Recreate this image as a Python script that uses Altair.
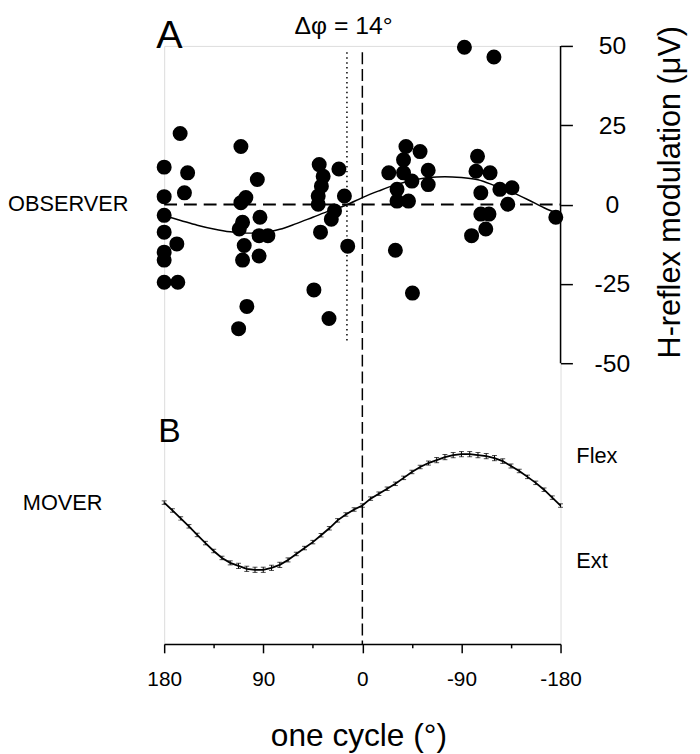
import altair as alt
import pandas as pd

# ---------------- Panel A: observer H-reflex modulation ----------------
obs_phase = [165.5, 180, 158.7, 161.6, 180, 180, 180, 168.5, 180, 180, 180, 167.6,
             110.3, 95.4, 105.8, 110.3, 93, 108.8, 111.8, 93.8, 85.8, 107.3, 93.8, 108.8, 104.9, 112.4,
             39.2, 21.3, 35.6, 37.2, 40.1, 40.1, 16.3, 25.3, 28.2, 38, 13.3, 44, 30.3,
             -92.7, -119.5, -39.6, -52.4, -37.4, -24, -37.4, -59.8, -45, -59.8, -31.5, -31.5, -41.9,
             -30, -45.5, -104.6, -103.2, -116, -107.6, -124.9, -135.9, -132.1, -107.6, -115, -112.1,
             -99.2, -175.7]
obs_value = [22.4, 11.8, 10, 3.7, 2.5, -3.4, -8.7, -12.4, -15, -17.5, -24.5, -24.5,
             18.3, 7.9, 2.2, 0.6, -4, -5.6, -7.7, -9.8, -9.8, -12.9, -16.2, -17.5, -32.1, -39.1,
             12.6, 11.2, 8.9, 5.8, 2.7, 0.1, 2.7, -2, -4.6, -8.7, -13.1, -26.9, -35.9,
             49.6, 46.5, 18.3, 16.7, 14.1, 10, 10, 10.8, 7.4, 6.3, 4.8, 1.1, 1.1,
             -14.4, -27.9, 15.2, 10.5, 10, 3.7, 4.8, 5.3, 0.1, -3, -3, -7.7,
             -9.8, -4]

# fitted sinusoid, read at 15 deg steps
fit_phase = [180, 165, 150, 135, 120, 105, 90, 75, 60, 45, 30, 15, 0,
             -15, -30, -45, -60, -75, -90, -105, -120, -135, -150, -165, -180]
fit_value = [-3.5, -5.0, -6.5, -7.7, -8.6, -9.0, -8.8, -7.8, -6.0, -4.0, -2.0, -0.2, 2.2,
             4.3, 6.2, 7.6, 8.5, 8.8, 8.5, 7.8, 6.0, 4.0, 1.6, -1.0, -3.2]

# ---------------- Panel B: mover trace (mean +/- sem) ----------------
mov_phase = [180, 172.5, 165, 157.5, 150, 142.5, 135, 127.5, 120, 112.5, 105, 97.5, 90,
             82.5, 75, 67.5, 60, 52.5, 45, 37.5, 30, 22.5, 15, 7.5, 0,
             -7.5, -15, -22.5, -30, -37.5, -45, -52.5, -60, -67.5, -75, -82.5, -90,
             -97.5, -105, -112.5, -120, -127.5, -135, -142.5, -150, -157.5, -165, -172.5, -180]
mov_value = [1.62, 0.26, -1.11, -2.48, -3.97, -5.38, -6.75, -7.95, -8.80, -9.32, -9.83, -10.0, -10.0,
             -9.66, -9.15, -8.29, -7.26, -6.24, -5.21, -4.02, -2.82, -1.45, -0.43, 0.43, 1.11,
             2.31, 3.16, 4.02, 4.87, 5.90, 6.92, 7.78, 8.46, 8.97, 9.49, 9.83, 10.0,
             10.0, 9.83, 9.66, 9.32, 8.80, 7.95, 7.09, 6.07, 5.04, 3.85, 2.48, 1.11]
mov_sem = [0.3, 0.3, 0.3, 0.3, 0.3, 0.3, 0.3, 0.3, 0.35, 0.45, 0.45, 0.45, 0.45,
           0.45, 0.45, 0.35, 0.3, 0.3, 0.3, 0.3, 0.3, 0.3, 0.3, 0.3, 0.3,
           0.3, 0.3, 0.3, 0.3, 0.3, 0.3, 0.3, 0.35, 0.45, 0.45, 0.45, 0.45,
           0.45, 0.45, 0.45, 0.45, 0.4, 0.35, 0.3, 0.3, 0.3, 0.3, 0.3, 0.3]

x_ticks = [180, 135, 90, 45, 0, -45, -90, -135, -180]
y_ticks = [-50, -25, 0, 25, 50]
phase_shift = 14

obs_df = pd.DataFrame({"deg": obs_phase, "v": obs_value})
fit_df = pd.DataFrame({"deg": fit_phase, "v": fit_value})
mov_df = pd.DataFrame({"deg": mov_phase, "m": mov_value, "s": mov_sem})
mov_df["lo"] = mov_df["m"] - mov_df["s"]
mov_df["hi"] = mov_df["m"] + mov_df["s"]

W, H = 401, 605
FONT = "Liberation Sans"

xs = alt.Scale(domain=[-180, 180], reverse=True, nice=False, zero=False)
x_axis = alt.Axis(
    values=x_ticks, title=None,
    labelExpr="datum.value % 90 === 0 ? '' + datum.value : ''",
    labelFontSize=21, labelPadding=16, labelFlush=False,
    tickSize={"condition": {"test": "datum.value % 90 !== 0", "value": 4}, "value": 9},
    tickWidth=1.5, domainWidth=1.5, domainColor="black",
    tickColor="black", labelColor="black", grid=False, labelFont=FONT)
x_enc = alt.X("deg:Q", scale=xs, axis=x_axis)

ys_top = alt.Scale(domain=[-138.47, 50], nice=False, zero=False)
ys_bot = alt.Scale(domain=[-22.82, 80.6], nice=False, zero=False)
y_axis = alt.Axis(
    orient="right", values=y_ticks, title=None, domain=False, tickSize=12, tickWidth=1.5,
    tickColor="black", labelColor="black", labelFontSize=25, labelAlign="center",
    labelPadding=40, labelExpr="'' + datum.value", grid=False, labelFont=FONT)


def ytop(field):
    return alt.Y(field, scale=ys_top, axis=y_axis)


def ybot(field):
    return alt.Y(field, scale=ys_bot, axis=None)


# --- top panel layers ---
zero_line = alt.Chart(pd.DataFrame({"deg": [180], "deg2": [-180], "v": [0]})).mark_rule(
    color="black", strokeWidth=2, strokeDash=[13, 7]).encode(
    x=x_enc, x2="deg2:Q", y=ytop("v:Q"))

vdash = alt.Chart(pd.DataFrame({"deg": [0], "v": [48], "v2": [-138.47]})).mark_rule(
    color="black", strokeWidth=1.5, strokeDash=[12, 5]).encode(
    x=x_enc, y=ytop("v:Q"), y2="v2:Q")

vdot = alt.Chart(pd.DataFrame({"deg": [phase_shift], "v": [48], "v2": [-43.3]})).mark_rule(
    color="black", strokeWidth=1.5, strokeDash=[1.5, 3.5]).encode(
    x=x_enc, y=ytop("v:Q"), y2="v2:Q")

yaxis_line = alt.Chart(pd.DataFrame({"deg": [-180], "v": [-50], "v2": [50]})).mark_rule(
    color="black", strokeWidth=1.5).encode(
    x=x_enc, y=ytop("v:Q"), y2="v2:Q")

fit = alt.Chart(fit_df).mark_line(color="black", strokeWidth=1.5, interpolate="monotone").encode(
    x=x_enc, y=ytop("v:Q"))

scatter = alt.Chart(obs_df).mark_circle(color="black", size=230, opacity=1).encode(
    x=x_enc, y=ytop("v:Q"))

top = alt.layer(zero_line, vdash, vdot, yaxis_line, fit, scatter)

# --- bottom panel layers ---
mline = alt.Chart(mov_df).mark_line(color="black", strokeWidth=1.8).encode(
    x=x_enc, y=ybot("m:Q"))
merr = alt.Chart(mov_df).mark_rule(color="black", strokeWidth=1).encode(
    x=x_enc, y=ybot("lo:Q"), y2="hi:Q")
mcap_lo = alt.Chart(mov_df).mark_tick(color="black", orient="horizontal", size=5, thickness=1).encode(
    x=x_enc, y=ybot("lo:Q"))
mcap_hi = alt.Chart(mov_df).mark_tick(color="black", orient="horizontal", size=5, thickness=1).encode(
    x=x_enc, y=ybot("hi:Q"))

bottom = alt.layer(mline, merr, mcap_lo, mcap_hi)


def label(txt, x, y, size, align="left", baseline="middle", angle=0):
    return alt.Chart(pd.DataFrame({"t": [txt]})).mark_text(
        align=align, baseline=baseline, fontSize=size, font=FONT, color="black", angle=angle
    ).encode(text="t:N", x=alt.value(x), y=alt.value(y))


texts = alt.layer(
    label("A", -8, 2, 40, baseline="alphabetic"),
    label("\u0394\u03c6 = 14\u00b0", 181.5, -12, 25, align="center", baseline="alphabetic"),
    label("OBSERVER", -158, 160, 22),
    label("B", -6, 401, 34, baseline="alphabetic"),
    label("MOVER", -143, 463, 22),
    label("Flex", 417, 415, 22),
    label("Ext", 417, 521, 22),
    label("H-reflex modulation (\u03bcV)", 513, 148, 31, align="center", angle=270),
    label("one cycle (\u00b0)", 197, 698, 32, align="center"),
)

chart = alt.layer(top, bottom, texts).resolve_scale(y="independent").properties(
    width=W, height=H,
    autosize=alt.AutoSizeParams(type="none"),
    padding={"left": 158, "top": 34, "right": 133, "bottom": 107},
).configure_view(stroke=None).configure(font=FONT)

chart.save("out.html", embed_options={"renderer": "svg", "actions": False})
